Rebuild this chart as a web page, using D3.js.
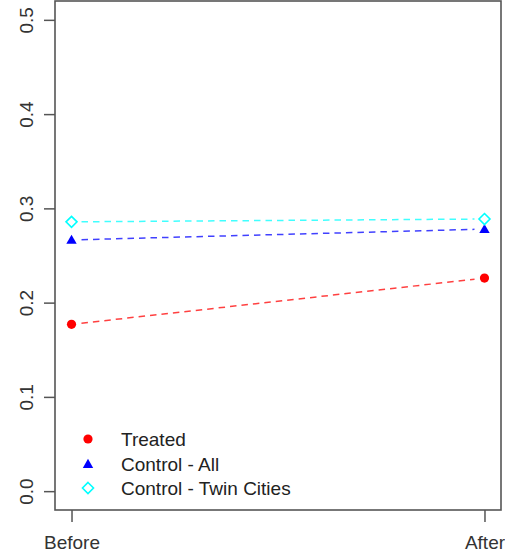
<!DOCTYPE html>
<html><head><meta charset="utf-8">
<script src="https://cdn.jsdelivr.net/npm/d3@7"></script>
<style>body{margin:0;background:#fff}svg{display:block}</style>
</head><body>
<script>
const periods = ["Before", "After"];
const seriesNames = ["Treated", "Control - All", "Control - Twin Cities"];
const treated = [0.177, 0.226];
const controlAll = [0.2665, 0.278];
const controlTwin = [0.2857, 0.2887];
const yTicks = [0.0, 0.1, 0.2, 0.3, 0.4, 0.5];
const colors = ["#ff0000", "#0000ff", "#00ffff"];
const symbols = ["circle", "triangle", "diamond"];

const W = 505, H = 560;
const svg = d3.select("body").append("svg").attr("width", W).attr("height", H);
const font = "'Liberation Sans', Arial, sans-serif";

const x = d3.scaleLinear().domain([0.96, 2.04]).range([55, 501]);
const y = d3.scaleLinear().domain([-0.02, 0.52]).range([510, 1]);

// Frame
svg.append("rect").attr("x", x(0.96)).attr("y", y(0.52))
  .attr("width", x(2.04) - x(0.96)).attr("height", y(-0.02) - y(0.52))
  .attr("fill", "none").attr("stroke", "#555").attr("stroke-width", 1.6);

// Y axis
const yAxis = svg.append("g").attr("transform", `translate(${x(0.96)},0)`)
  .call(d3.axisLeft(y).tickValues(yTicks).tickFormat(d3.format(".1f")).tickSize(11).tickPadding(0));
yAxis.select(".domain").remove();
yAxis.selectAll(".tick line").attr("stroke", "#555").attr("stroke-width", 1.5);
yAxis.selectAll(".tick text").attr("fill", "#333").style("font-family", font).style("font-size", "19px")
  .attr("text-anchor", "middle").attr("x", 0).attr("dy", 0)
  .attr("transform", "translate(-29,0) rotate(-90)").attr("dominant-baseline", "central");

// X axis
const xAxis = svg.append("g").attr("transform", `translate(0,${y(-0.02)})`)
  .call(d3.axisBottom(x).tickValues([1, 2]).tickFormat((d, i) => periods[i]).tickSize(12).tickPadding(14));
xAxis.select(".domain").remove();
xAxis.selectAll(".tick line").attr("stroke", "#555").attr("stroke-width", 1.5);
xAxis.selectAll(".tick text").attr("fill", "#333").style("font-family", font).style("font-size", "19px");

const data = [treated, controlAll, controlTwin];
const gap = 10;
data.forEach((vals, k) => {
  const x1 = x(1), y1 = y(vals[0]), x2 = x(2), y2 = y(vals[1]);
  const len = Math.hypot(x2 - x1, y2 - y1);
  const ux = (x2 - x1) / len, uy = (y2 - y1) / len;
  svg.append("line")
    .attr("x1", x1 + ux * gap).attr("y1", y1 + uy * gap)
    .attr("x2", x2 - ux * gap).attr("y2", y2 - uy * gap)
    .attr("stroke", colors[k]).attr("stroke-width", 1.5)
    .attr("stroke-opacity", 0.75)
    .attr("stroke-dasharray", "6.5,5");
});

function drawSymbol(g, type, cx, cy, color) {
  if (type === "circle") {
    g.append("circle").attr("cx", cx).attr("cy", cy).attr("r", 4.6).attr("fill", color);
  } else if (type === "triangle") {
    const s = 5.2;
    g.append("path").attr("d", `M${cx},${cy - s}L${cx + s},${cy + s * 0.75}L${cx - s},${cy + s * 0.75}Z`).attr("fill", color);
  } else {
    const s = 5.5;
    g.append("path").attr("d", `M${cx},${cy - s}L${cx + s},${cy}L${cx},${cy + s}L${cx - s},${cy}Z`)
      .attr("fill", "none").attr("stroke", color).attr("stroke-width", 1.6);
  }
}

data.forEach((vals, k) => {
  vals.forEach((v, i) => drawSymbol(svg, symbols[k], x(i + 1), y(v), colors[k]));
});

// Legend
const legY = [439, 464, 488];
seriesNames.forEach((name, k) => {
  drawSymbol(svg, symbols[k], 88, legY[k], colors[k]);
  svg.append("text").attr("x", 121).attr("y", legY[k]).attr("dominant-baseline", "central")
    .attr("fill", "#222").style("font-family", font).style("font-size", "19px").text(name);
});
</script>
</body></html>
